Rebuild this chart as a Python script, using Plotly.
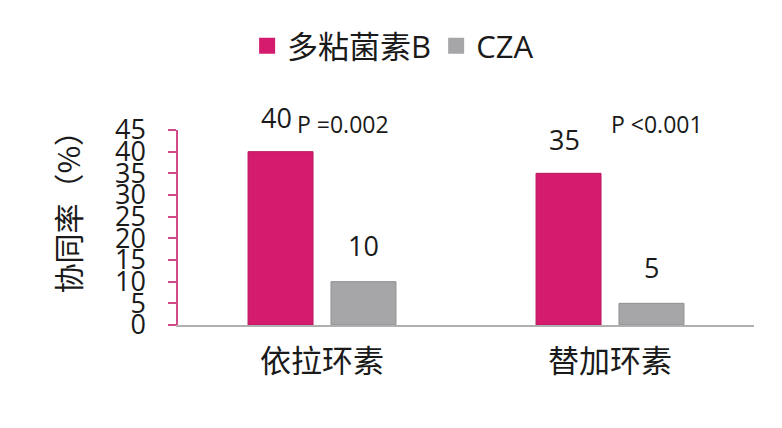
import plotly.graph_objects as go

categories = ["依拉环素", "替加环素"]
series_names = ["多粘菌素B", "CZA"]
polymyxin_b = [40, 35]
cza = [10, 5]
p_values = ["P =0.002", "P <0.001"]
y_ticks = [0, 5, 10, 15, 20, 25, 30, 35, 40, 45]
y_title = "协同率（%）"

PINK = "#d41b6e"
GRAY = "#a6a6a9"
FONT = "Open Sans, Noto Sans CJK SC, sans-serif"

fig = go.Figure()
fig.add_trace(go.Bar(x=categories, y=polymyxin_b, name=series_names[0], marker=dict(color=PINK, line=dict(color="#b8175e", width=1)), showlegend=False))
fig.add_trace(go.Bar(x=categories, y=cza, name=series_names[1], marker=dict(color=GRAY, line=dict(color="#8f8f92", width=1)), showlegend=False))
# legend entries with larger square swatches
fig.add_trace(go.Scatter(x=[None], y=[None], mode="markers", name=series_names[0], marker=dict(symbol="square", size=19, color=PINK)))
fig.add_trace(go.Scatter(x=[None], y=[None], mode="markers", name=series_names[1], marker=dict(symbol="square", size=19, color=GRAY)))

annotations = []
for i, cat in enumerate(categories):
    annotations.append(dict(x=cat, y=polymyxin_b[i], xref="x", yref="y", text=str(polymyxin_b[i]), showarrow=False,
                            xshift=-46, yshift=34, font=dict(size=27, color="#1a1a1a", family=FONT)))
    annotations.append(dict(x=cat, y=cza[i], xref="x", yref="y", text=str(cza[i]), showarrow=False,
                            xshift=41, yshift=36, font=dict(size=27, color="#1a1a1a", family=FONT)))
    annotations.append(dict(x=i - 0.095 + (0.09 if i == 1 else 0), y=1.03, xref="x", yref="paper", text=p_values[i], showarrow=False,
                            xanchor="left", yanchor="middle", font=dict(size=23, color="#1a1a1a", family=FONT)))
annotations.append(dict(x=-0.192, y=0.62, xref="paper", yref="paper", text=y_title, textangle=-90, showarrow=False,
                        xanchor="center", yanchor="middle", font=dict(size=30, color="#1a1a1a", family="Noto Sans CJK SC")))

fig.update_layout(
    width=782, height=428,
    margin=dict(l=170, r=36, t=122, b=111, autoexpand=False),
    paper_bgcolor="white", plot_bgcolor="white",
    barmode="group", bargap=0.424, bargroupgap=0.217,
    font=dict(family=FONT, size=25, color="#1a1a1a"),
    legend=dict(orientation="h", x=0.12, y=1.43, xanchor="left", yanchor="middle",
                font=dict(size=31, color="#1a1a1a"), itemwidth=30, tracegroupgap=0,
                bgcolor="rgba(0,0,0,0)"),
    annotations=annotations,
    xaxis=dict(range=[-0.5, 1.5], showline=True, linecolor="#b0b0b0", linewidth=1.5, automargin=False,
               ticks="", tickfont=dict(size=31), showgrid=False, zeroline=False, fixedrange=True,
               ticklabelstandoff=8),
    yaxis=dict(range=[0, 45], tickvals=y_ticks, showline=True, linecolor="#d04a8a", linewidth=1.5, automargin=False,
               ticks="outside", ticklen=8, tickcolor="#d04a8a", tickwidth=1.5,
               tickfont=dict(size=27), showgrid=False, zeroline=False, ticklabelstandoff=17),
)

fig.write_html("out.html")
